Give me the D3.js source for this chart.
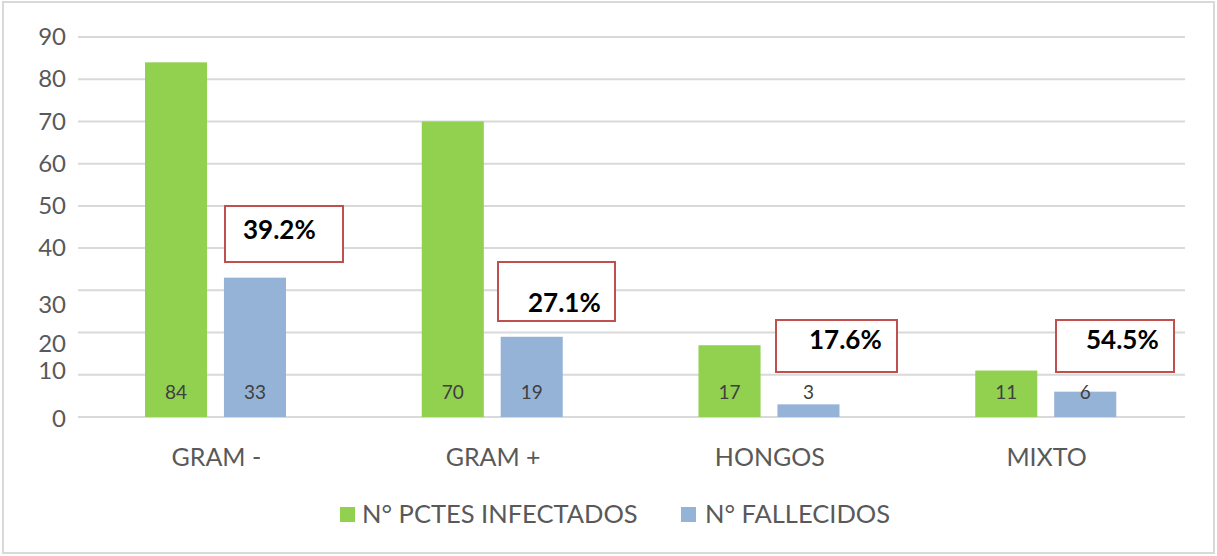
<!DOCTYPE html>
<html><head><meta charset="utf-8">
<script src="https://cdn.jsdelivr.net/npm/d3@7"></script>
<style>body{margin:0;background:#fff}svg{display:block}text{font-family:Lato,"Open Sans",sans-serif}</style>
</head><body><svg id="c" width="1217" height="556"></svg>
<script>
const categories = ["GRAM -", "GRAM +", "HONGOS", "MIXTO"];
const infectados = [84, 70, 17, 11];
const fallecidos = [33, 19, 3, 6];
const percentLabels = ["39.2%", "27.1%", "17.6%", "54.5%"];
const seriesNames = ["N° PCTES INFECTADOS", "N° FALLECIDOS"];
const yTicks = [0, 10, 20, 30, 40, 50, 60, 70, 80, 90];

(function () {
const colors = ["#92d050", "#95b3d7"];
const svg = d3.select("#c");
svg.append("rect").attr("x", 3).attr("y", 2).attr("width", 1211).attr("height", 551)
  .attr("fill", "#fff").attr("stroke", "#d9d9d9").attr("stroke-width", 2);

const pLeft = 78, pRight = 1185, pTop = 37, pBottom = 417;
const y = d3.scaleLinear().domain([0, 90]).range([pBottom, pTop]);
const x0 = d3.scaleBand().domain(categories).range([pLeft, pRight]).paddingInner(0).paddingOuter(0);
const x1 = d3.scaleBand().domain([0, 1]).range([67, 67 + 141]).paddingInner(17 / 79.5).paddingOuter(0);

// gridlines
svg.append("g").selectAll("line").data(yTicks).join("line")
  .attr("x1", pLeft).attr("x2", pRight).attr("y1", d => y(d)).attr("y2", d => y(d))
  .attr("stroke", "#d9d9d9").attr("stroke-width", 2);

// y axis labels (via d3 axis)
const labelShift = {0: 2, 30: 14, 20: 11, 10: -4};
const yAxis = svg.append("g").attr("transform", `translate(66,0)`)
  .call(d3.axisLeft(y).tickValues(yTicks).tickSize(0).tickPadding(0));
yAxis.select(".domain").remove();
yAxis.selectAll("text").attr("font-size", 24).attr("fill", "#595959")
  .attr("font-family", "Lato,'Open Sans',sans-serif")
  .attr("transform", d => `translate(0,${labelShift[d] || 0})`);

const series = [infectados, fallecidos];
const g = svg.append("g");
categories.forEach((c, i) => {
  series.forEach((s, j) => {
    const bx = x0(c) + x1(j);
    g.append("rect").attr("x", bx).attr("y", y(s[i])).attr("width", x1.bandwidth())
      .attr("height", y(0) - y(s[i])).attr("fill", colors[j]);
    g.append("text").attr("x", bx + x1.bandwidth() / 2).attr("y", 399)
      .attr("text-anchor", "middle").attr("font-size", 19).attr("fill", "#404040").text(s[i]);
  });
  g.append("text").attr("x", x0(c) + x0.bandwidth() / 2).attr("y", 466)
    .attr("text-anchor", "middle").attr("font-size", 25).attr("fill", "#595959").text(c);
});

// percentage boxes
const boxes = [
  {x: 225, y: 206, w: 118, h: 56, tx: 243, ty: 239},
  {x: 498, y: 262, w: 117, h: 59, tx: 528, ty: 312},
  {x: 776, y: 320, w: 121, h: 52, tx: 809, ty: 349},
  {x: 1056, y: 320, w: 118, h: 52, tx: 1086, ty: 349}
];
percentLabels.forEach((p, i) => {
  const b = boxes[i];
  svg.append("rect").attr("x", b.x).attr("y", b.y).attr("width", b.w).attr("height", b.h)
    .attr("fill", "#fff").attr("stroke", "#c0504d").attr("stroke-width", 2);
  svg.append("text").attr("x", b.tx).attr("y", b.ty).attr("font-size", 26)
    .attr("font-weight", "bold").attr("fill", "#000").text(p);
});

// legend
const legendPos = [{sx: 340, tx: 362}, {sx: 681, tx: 705}];
seriesNames.forEach((n, j) => {
  svg.append("rect").attr("x", legendPos[j].sx).attr("y", 507).attr("width", 15).attr("height", 15).attr("fill", colors[j]);
  svg.append("text").attr("x", legendPos[j].tx).attr("y", 523).attr("font-size", 25.5).attr("fill", "#595959").text(n);
});
})();
</script></body></html>
